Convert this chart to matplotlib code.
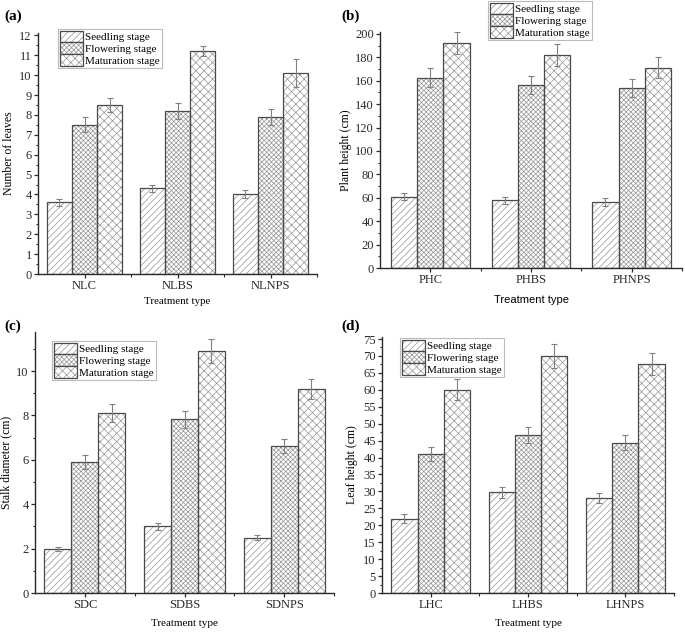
import matplotlib.pyplot as plt
import numpy as np
from matplotlib.ticker import MultipleLocator, FixedLocator
from matplotlib.legend_handler import HandlerTuple

plt.rcParams['font.family'] = 'Liberation Serif'
plt.rcParams['hatch.linewidth'] = 0.5

stages = ['Seedling stage', 'Flowering stage', 'Maturation stage']

# (a) number of leaves
cats_a = ['NLC', 'NLBS', 'NLNPS']
leaves = [[3.6, 4.3, 4.0], [7.5, 8.2, 7.9], [8.5, 11.2, 10.1]]
leaves_err = [[0.18, 0.2, 0.2], [0.38, 0.4, 0.4], [0.33, 0.25, 0.72]]

# (b) plant height
cats_b = ['PHC', 'PHBS', 'PHNPS']
height = [[60.7, 57.8, 56.4], [162.7, 156.4, 153.8], [192.3, 181.8, 171.0]]
height_err = [[3.0, 3.0, 3.0], [8.0, 8.0, 8.0], [9.5, 9.4, 9.0]]

# (c) stalk diameter
cats_c = ['SDC', 'SDBS', 'SDNPS']
stalk = [[2.0, 3.0, 2.5], [5.9, 7.82, 6.62], [8.1, 10.9, 9.2]]
stalk_err = [[0.09, 0.16, 0.13], [0.3, 0.38, 0.32], [0.41, 0.53, 0.45]]

# (d) leaf height
cats_d = ['LHC', 'LHBS', 'LHNPS']
leafh = [[22.0, 29.7, 28.0], [41.0, 46.7, 44.4], [60.0, 69.9, 67.6]]
leafh_err = [[1.2, 1.5, 1.4], [2.0, 2.3, 2.2], [3.1, 3.5, 3.3]]

hatches = ['/////', 'xxxxxxx', 'xxxx']
W, H = 685, 635
dark = '#2a2a2a'


def make_ax(fig, left, right, bottom, top):
    ax = fig.add_axes([left / W, 1 - bottom / H, (right - left) / W, (bottom - top) / H])
    ax.px = (left, right, bottom, top)
    return ax


def panel(ax, cats, vals, errs, width, ylim, major, minor, ylabel, ylab_x,
          xfont, xlab_y, xlab_size, leg_xy):
    left, right, bottom, top = ax.px
    pw, ph = right - left, bottom - top
    x = np.arange(len(cats))
    handles = []
    for i in range(3):
        pos = x + (i - 1) * width
        hb = ax.bar(pos, vals[i], width, color='white', edgecolor='#959595',
                    hatch=hatches[i], linewidth=0, zorder=2)
        eb = ax.bar(pos, vals[i], width, fill=False, edgecolor='#4a4a4a',
                    linewidth=0.9, zorder=3)
        ax.errorbar(pos, vals[i], yerr=errs[i], fmt='none', ecolor='#808080',
                    elinewidth=0.8, capsize=2.2, capthick=0.8, zorder=4)
        handles.append((hb[0], eb[0]))
    ax.set_xlim(-0.5, 2.5)
    ax.set_ylim(*ylim)
    ax.set_xticks(x)
    ax.set_xticklabels(cats)
    ax.xaxis.set_minor_locator(FixedLocator([0.5, 1.5, 2.5]))
    ax.yaxis.set_major_locator(MultipleLocator(major))
    ax.yaxis.set_minor_locator(MultipleLocator(minor))
    ax.tick_params(which='major', direction='out', length=3, width=0.9,
                   colors=dark, labelsize=9, pad=1.5)
    ax.tick_params(which='minor', direction='out', length=1.8, width=0.8, colors=dark)
    for s in ['top', 'right']:
        ax.spines[s].set_visible(False)
    for s in ['left', 'bottom']:
        ax.spines[s].set_color(dark)
        ax.spines[s].set_linewidth(1.0)
    ax.set_ylabel(ylabel, fontsize=8.5)
    ax.yaxis.set_label_coords((ylab_x + 5 - left) / pw, 0.5)
    ax.set_xlabel('Treatment type', fontsize=xlab_size, family=xfont)
    ax.xaxis.set_label_coords(0.5, (bottom - xlab_y) / ph)
    leg = ax.legend(handles, stages, handler_map={tuple: HandlerTuple(ndivide=1)},
                    loc='upper left',
                    bbox_to_anchor=((leg_xy[0] - left) / pw, (bottom - leg_xy[1]) / ph),
                    fontsize=8, frameon=True, fancybox=False, edgecolor='#aaaaaa',
                    handlelength=2.1, handleheight=1.25, labelspacing=0.0,
                    handletextpad=0.2, borderpad=0.15, borderaxespad=0)
    leg.get_frame().set_linewidth(0.8)
    return ax


fig = plt.figure(figsize=(6.85, 6.35), dpi=100)

ax_a = make_ax(fig, 38, 317, 274, 33)
panel(ax_a, cats_a, leaves, leaves_err, 0.27, (0, 12.12), 1, 0.5,
      'Number of leaves', 10, 'Liberation Serif', 297, 7.8, (58, 29))

ax_b = make_ax(fig, 380, 682, 268, 32)
panel(ax_b, cats_b, height, height_err, 0.26, (0, 201.7), 20, 10,
      'Plant height (cm)', 347, 'Liberation Sans', 295, 8, (488, 1))

ax_c = make_ax(fig, 35, 334, 593, 332)
panel(ax_c, cats_c, stalk, stalk_err, 0.27, (0, 11.76), 2, 1,
      'Stalk diameter (cm)', 7, 'Liberation Serif', 619, 8, (52, 341))

ax_d = make_ax(fig, 382, 674, 593, 337)
panel(ax_d, cats_d, leafh, leafh_err, 0.27, (0, 75.6), 5, 2.5,
      'Leaf height (cm)', 353, 'Liberation Serif', 619, 8, (400, 338))

for lab, px, py in [('(a)', 4, 16), ('(b)', 341, 16), ('(c)', 4, 326), ('(d)', 341, 326)]:
    fig.text(px / W, 1 - py / H, lab, fontsize=11, fontweight='bold', va='center', ha='left')

fig.savefig('out.png', dpi=100)
